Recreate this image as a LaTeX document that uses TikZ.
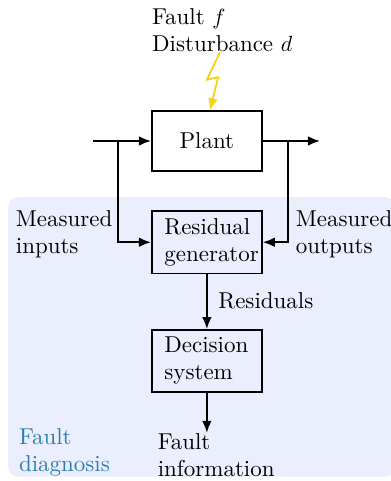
\documentclass[tikz,border=0pt]{standalone}
\usetikzlibrary{arrows.meta}

\definecolor{diagbg}{RGB}{235,238,253}
\definecolor{diagtext}{RGB}{45,125,175}
\definecolor{zapcol}{RGB}{245,208,20}

\begin{document}
\begin{tikzpicture}[>={Latex[length=5.5pt,width=4.4pt]},thick,
    font=\fontsize{10.45}{12.3}\selectfont,
    block/.style={draw,minimum width=1.76cm,minimum height=0.95cm},
    textblock/.style={block,text width=1.36cm,inner xsep=0.2cm,align=left},
    lbl/.style={inner sep=0pt,align=left,anchor=north west}]

\useasboundingbox (0,0) rectangle (6.24,7.696);

% Hintergrund
\fill[color=diagbg,rounded corners=0.16cm] (0.13,0.07) rectangle (6.32,4.54);
\node[lbl,color=diagtext] (diag) at (0.29,0.86) {Fault\\diagnosis};

% Bloecke
\node[block] (plant) at (3.31,5.44) {Plant};
\node[textblock] (resgen) at (3.31,3.82) {Residual\\generator};
\node[textblock] (decsys) at (3.31,1.92) {Decision\\system};

% Texte
\node[lbl] (fault) at (2.42,7.57) {Fault $f$\\Disturbance $d$};
\node[lbl] (minputs) at (0.24,4.34) {Measured\\inputs};
\node[lbl] (moutputs) at (4.72,4.34) {Measured\\outputs};
\node[lbl] (finfo) at (2.51,0.77) {Fault\\information};
\node[anchor=west,inner sep=0pt] (resid) at (3.48,2.88) {Residuals};

% Ein- und Ausgang
\coordinate (in)   at (1.49,5.44);
\coordinate (tapi) at (1.89,5.44);
\coordinate (tapo) at (4.61,5.44);
\coordinate (out)  at (5.12,5.44);

\draw[->] (in)--(plant.west);
\draw[->] (plant.east)--(out);
\draw[->] (tapi) |- (resgen.west);
\draw[->] (tapo) |- (resgen.east);

\draw[->] (resgen.south)--(decsys.north);
\draw[->] (decsys.south)--(decsys.south |- finfo.north);

% Blitz
\coordinate (zap) at (3.52,6.86);
\draw[->,color=zapcol]
      (zap)
    --(3.31,6.42)
    --(3.49,6.46)
    --([xshift=0.05cm]plant.north);

\end{tikzpicture}
\end{document}
